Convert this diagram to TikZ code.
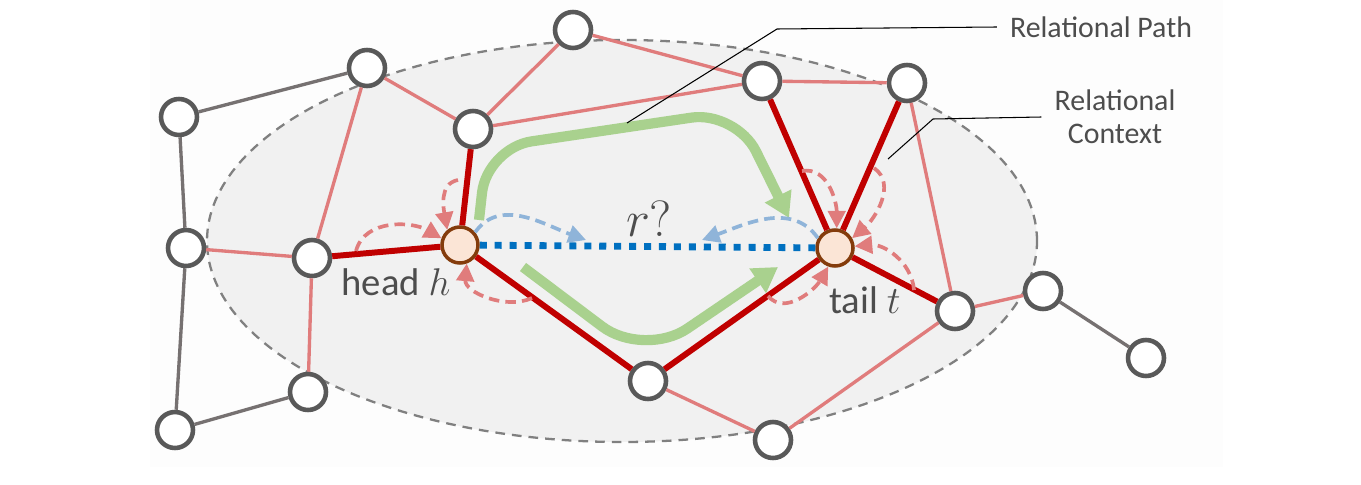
\RequirePackage{fix-cm}
\documentclass[tikz,border=0pt]{standalone}
\usepackage{fontspec}
\setmainfont{Carlito}
\usepackage{tikz}
\usetikzlibrary{arrows.meta}

\definecolor{nodegray}{HTML}{595959}
\definecolor{edgegray}{HTML}{767171}
\definecolor{ctxred}{HTML}{E07C7C}
\definecolor{pathred}{HTML}{C00000}
\definecolor{dotblue}{HTML}{0070C0}
\definecolor{arcblue}{HTML}{8FB4D9}
\definecolor{pathgreen}{HTML}{A9D18E}
\definecolor{endfill}{HTML}{FBE5D6}
\definecolor{endbrown}{HTML}{843C0C}
\definecolor{ctxfill}{HTML}{F1F1F1}
\definecolor{txtgray}{HTML}{4D4D4D}
\definecolor{backfill}{HTML}{FDFDFD}

\begin{document}
\begin{tikzpicture}[x=0.02cm,y=0.02cm,
  vertex/.style={circle,draw=nodegray,line width=2.6pt,fill=white,minimum size=0.72cm,inner sep=0pt},
  endpt/.style={circle,draw=endbrown,line width=2pt,fill=endfill,minimum size=0.72cm,inner sep=0pt},
  outer/.style={draw=edgegray,line width=1.9pt},
  ctx/.style={draw=ctxred,line width=1.9pt},
  rpath/.style={draw=pathred,line width=3.4pt},
  selfloop/.style={draw=ctxred,line width=2.1pt,dash pattern=on 6pt off 3.5pt,-{Triangle[length=10pt,width=10pt]}},
  guess/.style={draw=arcblue,line width=2.1pt,dash pattern=on 6pt off 3.5pt,-{Triangle[length=10pt,width=10pt]}},
  walk/.style={draw=pathgreen,line width=5.8pt,-{Triangle[length=14pt,width=16pt]}},
  leader/.style={draw=black,line width=0.6pt},
  lbl/.style={text=txtgray,font=\fontsize{22}{26}\selectfont}
]
\useasboundingbox (0,0) rectangle (1361,484);
\fill[backfill] (150,17) rectangle (1223,484);
\draw[fill=ctxfill,draw=gray,line width=1.3pt,dash pattern=on 5.5pt off 4pt] (622,243) ellipse [x radius=415,y radius=201];

\node[vertex] (n1) at (179,367) {};
\node[vertex] (n2) at (367,416) {};
\node[vertex] (n3) at (473,355) {};
\node[vertex] (n4) at (573,454) {};
\node[vertex] (n5) at (762,403) {};
\node[vertex] (n6) at (907,401) {};
\node[vertex] (n7) at (186,236) {};
\node[vertex] (n8) at (312,226) {};
\node[vertex] (n9) at (955,173) {};
\node[vertex] (n10) at (1043,193) {};
\node[vertex] (n11) at (1146,126) {};
\node[vertex] (n12) at (308,92) {};
\node[vertex] (n13) at (175,54) {};
\node[vertex] (n14) at (648,103) {};
\node[vertex] (n15) at (773,44) {};
\node[endpt] (h) at (460,239) {};
\node[endpt] (t) at (835,236) {};

\draw [outer] (n1) -- (n2);
\draw [outer] (n1) -- (n7);
\draw [outer] (n7) -- (n13);
\draw [outer] (n13) -- (n12);
\draw [outer] (n10) -- (n11);

\draw [ctx] (n2) -- (n8);
\draw [ctx] (n2) -- (n3);
\draw [ctx] (n3) -- (n4);
\draw [ctx] (n3) -- (n5);
\draw [ctx] (n4) -- (n5);
\draw [ctx] (n5) -- (n6);
\draw [ctx] (n7) -- (n8);
\draw [ctx] (n8) -- (n12);
\draw [ctx] (n6) -- (n9);
\draw [ctx] (n9) -- (n10);
\draw [ctx] (n9) -- (n15);
\draw [ctx] (n14) -- (n15);

\draw [rpath] (n8) -- (h);
\draw [rpath] (n3) -- (h);
\draw [rpath] (h) -- (n14);
\draw [rpath] (n14) -- (t);
\draw [rpath] (n5) -- (t);
\draw [rpath] (n6) -- (t);
\draw [rpath] (t) -- (n9);

\draw [draw=dotblue,line width=3.9pt,dash pattern=on 4pt off 4.5pt] (h) -- (t);

\coordinate (g1) at (479,264);
\coordinate (g2) at (487,336);
\coordinate (g3) at (736,373);
\coordinate (g4) at (789,266);
\coordinate (g5) at (523,217);
\coordinate (g6) at (644,126);
\coordinate (g7) at (778,217);
\draw [walk,rounded corners=0.9cm] (g1) -- (g2) -- (g3) -- (g4);
\draw [walk,rounded corners=1.05cm] (g5) -- (g6) -- (g7);

\coordinate (b1) at (586,244);
\coordinate (b2) at (702,244);
\draw [guess] (h.40) to[out=55,in=160] (b1);
\draw [guess] (t.150) to[out=125,in=20] (b2);

\coordinate (hl1) at (356,233);
\coordinate (hl2) at (458,304);
\coordinate (hl3) at (532,186);
\draw [selfloop] (hl1) to[out=75,in=150] (h.160);
\draw [selfloop] (hl2) to[out=190,in=100] (h.130);
\draw [selfloop] (hl3) to[out=205,in=265] (h.290);

\coordinate (tl1) at (802,313);
\coordinate (tl2) at (874,316);
\coordinate (tl3) at (914,194);
\coordinate (tl4) at (768,188);
\draw [selfloop] (tl1) to[out=10,in=90] (t.85);
\draw [selfloop] (tl2) to[out=-35,in=40] (t.30);
\draw [selfloop] (tl3) to[out=95,in=5] (t.5);
\draw [selfloop] (tl4) to[out=-50,in=240] (t.250);

\node[lbl] (hlbl) at (396,202) {head $h$};
\node[lbl] (tlbl) at (865,184) {tail $t$};
\node[text=txtgray,font=\fontsize{29}{34}\selectfont] (rlbl) at (649,265) {$r?$};
\node[text=txtgray,font=\fontsize{17}{19}\selectfont] (pathlbl) at (1101,457) {Relational Path};
\node[text=txtgray,font=\fontsize{17}{19}\selectfont,align=center] (ctxlbl) at (1115,367) {Relational\\Context};

\coordinate (pa) at (627,361);
\coordinate (pb) at (777,455);
\coordinate (ca) at (888,325);
\coordinate (cb) at (933,365);
\draw [leader] (pa) -- (pb) -- ([xshift=-4pt]pathlbl.west);
\draw [leader] (ca) -- (cb) -- ([xshift=-4pt]ctxlbl.west);

\end{tikzpicture}
\end{document}
